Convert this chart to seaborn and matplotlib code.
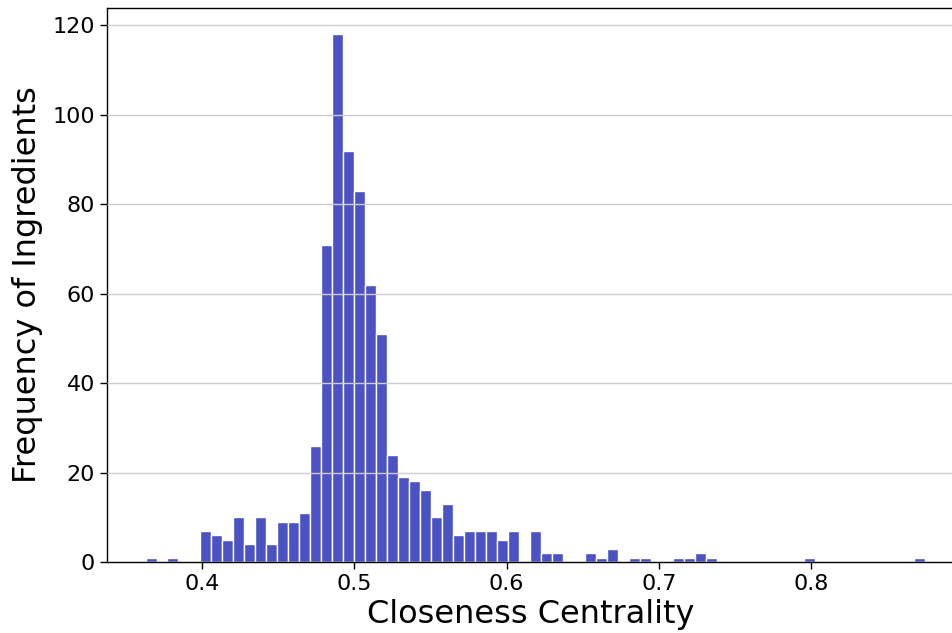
import numpy as np
import pandas as pd
import matplotlib
matplotlib.use('Agg')
import matplotlib.pyplot as plt
import seaborn as sns

# Histogram: 71 equal bins of closeness centrality
bin_start = 0.3628
bin_end = 0.8749
counts = [1, 0, 1, 0, 0, 7, 6, 5, 10, 4,
          10, 4, 9, 9, 11, 26, 71, 118, 92, 83,
          62, 51, 24, 19, 18, 16, 10, 13, 6, 7,
          7, 7, 5, 7, 0, 7, 2, 2, 0, 0,
          2, 1, 3, 0, 1, 1, 0, 0, 1, 1,
          2, 1, 0, 0, 0, 0, 0, 0, 0, 0,
          1, 0, 0, 0, 0, 0, 0, 0, 0, 0,
          1]

n_bins = len(counts)
edges = np.linspace(bin_start, bin_end, n_bins + 1)
centers = (edges[:-1] + edges[1:]) / 2
df = pd.DataFrame({'closeness': centers, 'count': counts})

sns.set_style('white')
plt.rcParams['font.family'] = ['DejaVu Sans']

fig = plt.figure(figsize=(9.52, 6.33), dpi=100)
ax = fig.add_axes([0.1124, 0.1122, 0.8908, 0.8752])

sns.histplot(data=df, x='closeness', weights='count', bins=n_bins,
             binrange=(bin_start, bin_end),
             color='#4a52c4', alpha=1.0, edgecolor='white', linewidth=1,
             ax=ax, zorder=1)

ax.set_xlim(0.3375, 0.8945)
ax.grid(axis='y', color='#cccccc', linewidth=1, zorder=3)
ax.set_axisbelow(False)
ax.set_xlabel('Closeness Centrality', fontsize=23, color='black')
ax.set_ylabel('Frequency of Ingredients', fontsize=23, color='black', labelpad=7)
ax.tick_params(axis='both', labelsize=16, length=5, width=1, colors='black',
               bottom=True, left=True)
for s in ax.spines.values():
    s.set_color('black')
    s.set_linewidth(1)

fig.savefig('out.png', dpi=100)
